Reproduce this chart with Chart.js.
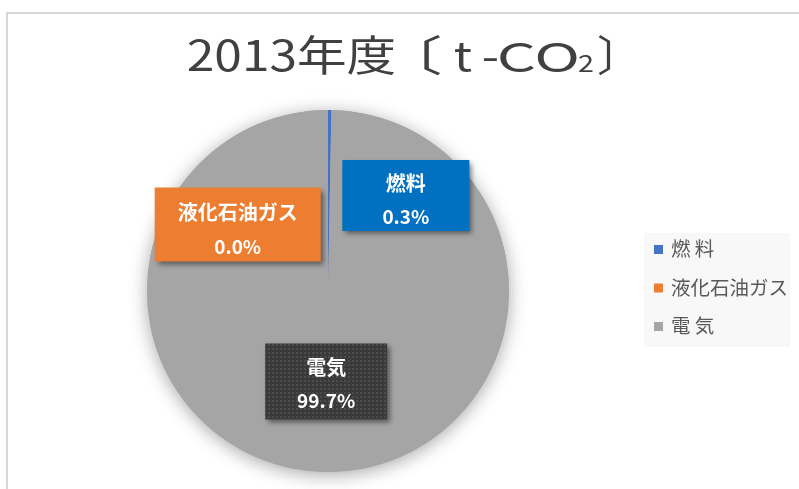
<!DOCTYPE html>
<html><head><meta charset="utf-8">
<script src="https://cdn.jsdelivr.net/npm/chart.js@4"></script>
<style>html,body{margin:0;padding:0;background:#fff;}canvas{display:block;}</style>
</head><body>
<canvas id="c" width="799" height="489"></canvas>
<script>
const categories = ['燃料', '液化石油ガス', '電気'];
const legendLabels = ['燃 料', '液化石油ガス', '電 気'];
const shares = [0.3, 0.0, 99.7];
const titleParts = ['2013年度', '〔', 't', '-', 'CO', '2', '〕'];

const sliceColors = ['#4472C4', '#ED7D31', '#A5A5A5'];
const FONT = '"Noto Sans CJK JP", "Noto Sans", sans-serif';

// title part placement: [visible left, visible right, font size, baseline]
const titleLayout = [
  [188, 395, 42, 71],
  [423, 441, 42, 71],
  [455, 472, 40, 71],
  [483, 498, 40, 71],
  [500, 577, 39, 72],
  [578, 593, 23, 72],
  [598, 611, 42, 71]
];

function makePattern(ctx) {
  const p = document.createElement('canvas');
  p.width = 4; p.height = 4;
  const c = p.getContext('2d');
  c.fillStyle = '#3a3a3a'; c.fillRect(0, 0, 4, 4);
  c.fillStyle = '#4c4c4c'; c.fillRect(0, 0, 2, 2);
  return ctx.createPattern(p, 'repeat');
}

const labelBoxes = [
  { dx: 77, dy: -5, w: 127, h: 71, fill: '#0070C0', ny: -12, vy: 21 },
  { dx: -92, dy: 24, w: 166, h: 74, fill: '#ED7D31', ny: -12, vy: 22 },
  { dx: -1, dy: 0, w: 122, h: 76, fill: 'pattern', ny: -14, vy: 19 }
];

const deco = {
  id: 'deco',
  beforeDraw(chart) {
    const ctx = chart.ctx;
    ctx.save();
    ctx.fillStyle = '#fff';
    ctx.fillRect(0, 0, chart.width, chart.height);
    // frame
    ctx.strokeStyle = '#d6d6d6';
    ctx.lineWidth = 2;
    ctx.beginPath();
    ctx.moveTo(7, chart.height);
    ctx.lineTo(7, 13);
    ctx.lineTo(chart.width, 13);
    ctx.stroke();
    // title
    ctx.fillStyle = '#404040';
    ctx.textBaseline = 'alphabetic';
    ctx.textAlign = 'left';
    titleParts.forEach((t, i) => {
      const [l, r, fs, base] = titleLayout[i];
      ctx.font = fs + 'px ' + FONT;
      const m = ctx.measureText(t);
      const vw = m.actualBoundingBoxLeft + m.actualBoundingBoxRight;
      const sx = vw > 0 ? (r - l) / vw : 1;
      ctx.save();
      ctx.translate(l + m.actualBoundingBoxLeft * sx, base);
      ctx.scale(sx, 1);
      ctx.fillText(t, 0, 0);
      ctx.restore();
    });
    // legend
    ctx.fillStyle = '#f8f8f8';
    ctx.fillRect(644, 233, 146, 114);
    ctx.font = '19.5px ' + FONT;
    ctx.textBaseline = 'middle';
    legendLabels.forEach((t, i) => {
      const y = 249 + i * 38.5;
      ctx.fillStyle = sliceColors[i];
      ctx.fillRect(654, y - 4, 9, 9);
      ctx.fillStyle = '#595959';
      ctx.fillText(t, 671, y);
    });
    ctx.restore();
  },
  beforeDatasetsDraw(chart) {
    const ctx = chart.ctx;
    const a = chart.getDatasetMeta(0).data[0];
    ctx.save();
    ctx.shadowColor = 'rgba(0,0,0,0.35)';
    ctx.shadowBlur = 18;
    ctx.shadowOffsetY = 3;
    ctx.fillStyle = '#A5A5A5';
    ctx.beginPath();
    ctx.arc(a.x, a.y, a.outerRadius, 0, Math.PI * 2);
    ctx.fill();
    ctx.restore();
  },
  afterDatasetsDraw(chart) {
    const ctx = chart.ctx;
    const meta = chart.getDatasetMeta(0);
    const pat = makePattern(ctx);
    meta.data.forEach((el, i) => {
      const b = labelBoxes[i];
      const p = el.tooltipPosition();
      const cx = p.x + b.dx, cy = p.y + b.dy;
      ctx.save();
      ctx.shadowColor = 'rgba(0,0,0,0.45)';
      ctx.shadowBlur = 5;
      ctx.shadowOffsetX = 3;
      ctx.shadowOffsetY = 3;
      ctx.fillStyle = b.fill === 'pattern' ? pat : b.fill;
      ctx.fillRect(cx - b.w / 2, cy - b.h / 2, b.w, b.h);
      ctx.restore();
      ctx.save();
      ctx.fillStyle = '#fff';
      ctx.textAlign = 'center';
      ctx.textBaseline = 'middle';
      ctx.font = 'bold 20px ' + FONT;
      ctx.fillText(categories[i], cx, cy + b.ny);
      ctx.font = 'bold 19px ' + FONT;
      ctx.fillText(shares[i].toFixed(1) + '%', cx, cy + b.vy);
      ctx.restore();
    });
  }
};

new Chart(document.getElementById('c'), {
  type: 'pie',
  data: {
    labels: categories,
    datasets: [{
      data: shares,
      backgroundColor: sliceColors,
      borderWidth: 0
    }]
  },
  options: {
    responsive: false,
    animation: false,
    layout: { padding: { left: 147, right: 290, top: 110, bottom: 17 } },
    plugins: { legend: { display: false }, tooltip: { enabled: false }, title: { display: false } }
  },
  plugins: [deco]
});
</script>
</body></html>
